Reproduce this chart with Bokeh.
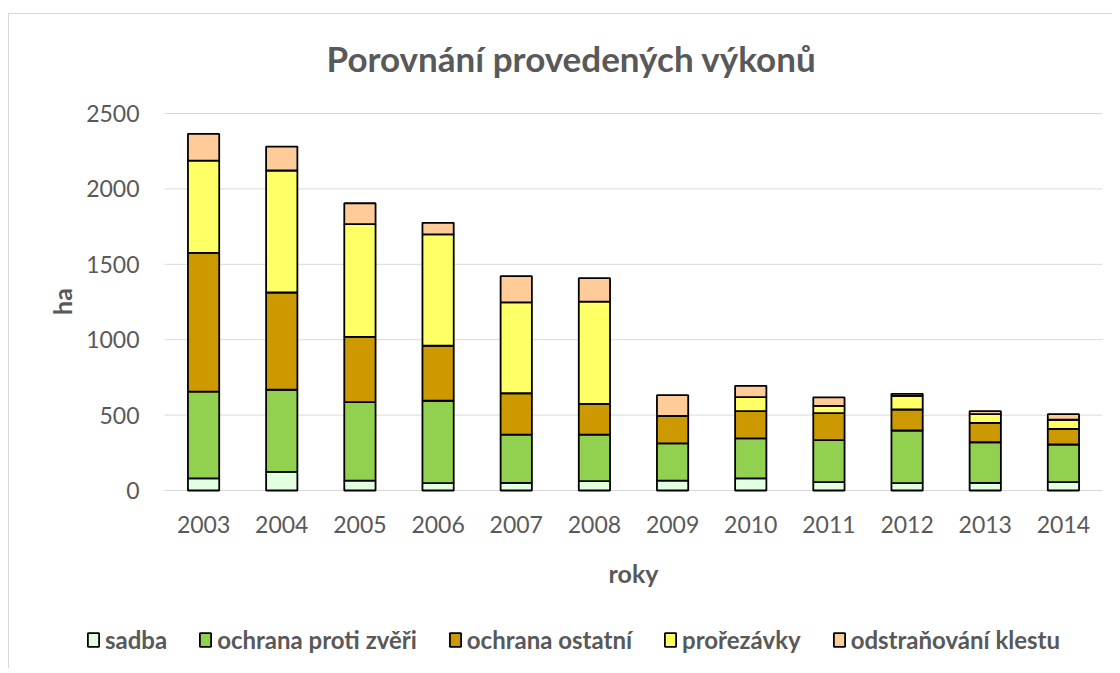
import math
from bokeh.plotting import figure
from bokeh.models import (Range1d, Legend, LegendItem, Label, FixedTicker)
from bokeh.embed import file_html
from bokeh.resources import INLINE

years = ["2003", "2004", "2005", "2006", "2007", "2008",
         "2009", "2010", "2011", "2012", "2013", "2014"]
sadba = [80, 124, 66, 49, 51, 62, 66, 80, 55, 49, 51, 55]
ochrana_zver = [576, 544, 520, 546, 320, 309, 246, 265, 279, 349, 269, 250]
ochrana_ostatni = [920, 645, 433, 365, 274, 204, 183, 181, 179, 139, 129, 104]
prorezavky = [612, 809, 747, 738, 602, 678, 0, 93, 48, 91, 57, 60]
klest = [177, 159, 139, 77, 174, 155, 137, 75, 56, 13, 20, 37]

series = ["sadba", "ochrana proti zvěři", "ochrana ostatní", "prořezávky", "odstraňování klestu"]
colors = ["#E2FFE2", "#92D050", "#CC9900", "#FFFF66", "#FFCC99"]
y_ticks = [0, 500, 1000, 1500, 2000, 2500]

FONT = "Lato"
GREY = "#595959"

# canvas geometry (pixels)
W, H = 1104, 655
PLOT_L, PLOT_R, PLOT_T, PLOT_B = 155, 1093, 99, 476
n = len(years)
px_per_x = (PLOT_R - PLOT_L) / n
px_per_y = (PLOT_B - PLOT_T) / 2500.0
x0 = -PLOT_L / px_per_x
x1 = n + (W - PLOT_R) / px_per_x
y1 = PLOT_B / px_per_y
y0 = -(H - PLOT_B) / px_per_y

def dx(px):
    return (px - PLOT_L) / px_per_x

def dy(py):
    return (PLOT_B - py) / px_per_y

centers = [i + 0.5 for i in range(n)]
data = {"x": centers, "s0": sadba, "s1": ochrana_zver, "s2": ochrana_ostatni,
        "s3": prorezavky, "s4": klest}

p = figure(x_range=Range1d(x0, x1), y_range=Range1d(y0, y1),
           width=W, height=H, output_backend="svg", toolbar_location=None,
           min_border_left=0, min_border_right=0, min_border_top=0,
           min_border_bottom=0)
p.styles = {"border-left": "1px solid #d9d9d9", "border-top": "1px solid #d9d9d9",
            "margin-top": "13px", "margin-left": "8px"}
p.outline_line_color = None
p.grid.visible = False

# horizontal gridlines over the plot area
p.segment(x0=[0] * len(y_ticks), x1=[n] * len(y_ticks), y0=y_ticks, y1=y_ticks,
          line_color="#d9d9d9", line_width=1)

rs = p.vbar_stack(["s0", "s1", "s2", "s3", "s4"], x="x", width=0.4,
                  color=colors, line_color="black", line_width=1.8, source=data)

# axes pinned to the plot area
p.yaxis.fixed_location = 0
p.yaxis.ticker = FixedTicker(ticks=y_ticks)
p.yaxis.bounds = (0, 2500)
p.yaxis.axis_line_color = None
p.yaxis.major_tick_line_color = None
p.yaxis.minor_tick_line_color = None
p.yaxis.major_tick_out = 0
p.yaxis.major_tick_in = 0
p.yaxis.major_label_standoff = 25

p.xaxis.fixed_location = 0
p.xaxis.ticker = FixedTicker(ticks=centers)
p.xaxis.major_label_overrides = {c: y for c, y in zip(centers, years)}
p.xaxis.bounds = (0, n)
p.xaxis.axis_line_color = None
p.xaxis.major_tick_line_color = None
p.xaxis.minor_tick_line_color = None
p.xaxis.major_tick_out = 0
p.xaxis.major_tick_in = 0
p.xaxis.major_label_standoff = 25

for ax in (p.xaxis, p.yaxis):
    ax.major_label_text_font = FONT
    ax.major_label_text_font_size = "23px"
    ax.major_label_text_color = GREY

# texts
p.add_layout(Label(x=dx(562), y=dy(43), text="Porovnání provedených výkonů",
                   text_font=FONT, text_font_size="35px", text_font_style="bold",
                   text_color=GREY, text_align="center", text_baseline="middle"))
p.add_layout(Label(x=dx(52), y=dy(287), text="ha", angle=math.pi / 2,
                   text_font=FONT, text_font_size="25px", text_font_style="bold",
                   text_color=GREY, text_align="center", text_baseline="middle"))
p.add_layout(Label(x=n / 2, y=dy(558), text="roky",
                   text_font=FONT, text_font_size="25px", text_font_style="bold",
                   text_color=GREY, text_align="center", text_baseline="middle"))

items = [LegendItem(label=s, renderers=[r]) for s, r in zip(series, rs)]
legend = Legend(items=items, orientation="horizontal", location=(77, 15),
                label_text_font=FONT, label_text_font_size="24px",
                label_text_font_style="bold", label_text_color=GREY,
                glyph_width=14, glyph_height=17, label_standoff=5, spacing=31,
                label_height=24, padding=0, margin=0,
                border_line_color=None, background_fill_alpha=0)
p.add_layout(legend, "center")

open("out.html", "w").write(file_html(p, INLINE))
